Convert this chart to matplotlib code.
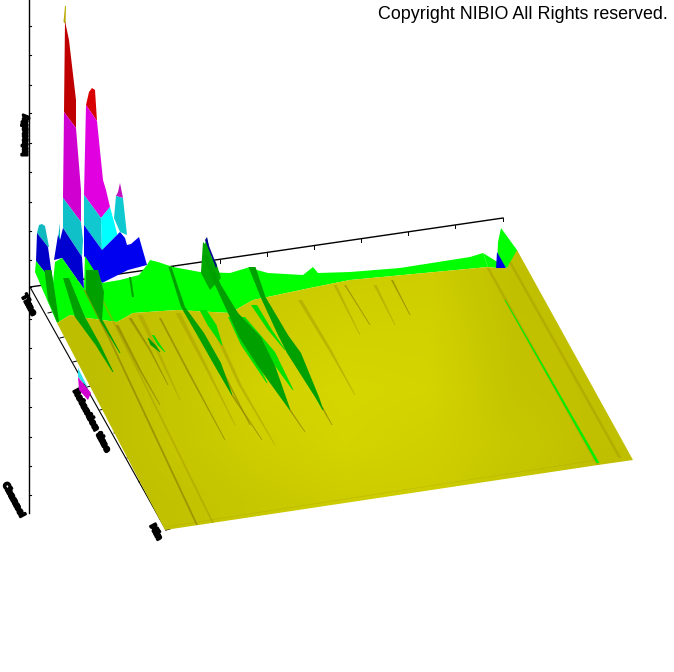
import numpy as np
import matplotlib
matplotlib.use('Agg')
import matplotlib.pyplot as plt
import matplotlib.patheffects as pe
from matplotlib.colors import LinearSegmentedColormap
from matplotlib.patches import Polygon

# outlines, in picture pixels
floor_x = [57, 70, 80, 117, 133, 177, 230, 253, 277, 310, 350, 488, 497, 507, 517, 633, 598, 165]
floor_y = [323, 315, 317, 322, 313, 310, 313, 300, 295, 288, 280, 267, 268, 268, 250, 460, 465, 530]

band_x = [35, 36, 53, 55, 62, 84, 85, 102, 120, 139, 147, 150, 158, 173, 200, 230, 250, 257, 268, 303,
          313, 318, 350, 400, 470, 483, 488, 350, 310, 277, 253, 230, 177, 133, 117, 80, 70, 57]
band_y = [272, 261, 283, 262, 258, 289, 256, 283, 280, 275, 265, 260, 262, 267, 272, 273, 267, 270, 273, 275,
          267, 273, 272, 268, 257, 253, 267, 280, 288, 295, 300, 313, 310, 313, 322, 317, 315, 323]

layers = {
    '#b8a800': ([63.5, 65, 66, 65.5], [22, 6, 6, 24]),
    '#c00000': ([64, 65, 69, 76, 76], [112, 21, 40, 100, 128]),
    '#d000d0': ([64, 76, 81, 81, 63], [112, 128, 190, 222, 198]),
    '#10c0c8': ([63, 81, 83, 82, 63], [198, 222, 240, 257, 228]),
    '#0000d0': ([63, 82, 84, 62, 54, 58, 60], [228, 257, 289, 258, 260, 235, 240]),
}
peak2 = {
    '#d80000': ([86, 89, 92, 95, 97], [105, 92, 88, 90, 121]),
    '#e000e0': ([86, 97, 103, 106, 110, 101, 84], [105, 121, 180, 190, 207, 218, 195]),
    '#10c8d0': ([84, 101, 102, 84], [195, 218, 250, 225]),
    '#00ffff': ([101, 110, 113, 118, 120, 102], [218, 207, 218, 237, 232, 250]),
    '#0000f0': ([84, 102, 120, 125, 127, 131, 139, 147, 128, 102, 84],
                [225, 250, 232, 238, 245, 244, 237, 265, 270, 283, 256]),
}
peak3 = {
    '#c010c0': ([118, 120, 123, 116], [192, 183, 198, 196]),
    '#10c8d0': ([116, 123, 127, 120, 114], [196, 198, 235, 232, 218]),
}
peak0 = {
    '#10b8c0': ([37, 39, 42, 45, 49, 48], [233, 225, 224, 226, 247, 247]),
    '#0000c8': ([37, 48, 53, 36], [233, 247, 283, 261]),
    '#10b8c0 ': ([58, 60, 60, 58], [238, 223, 240, 240]),
}
front_bits = {
    '#30e0e8': ([78, 88, 78], [368, 388, 377]),
    '#d000d0': ([78, 91, 88, 79], [377, 393, 400, 390]),
}
back_peak_x = [201, 203, 205, 207, 209, 212, 216, 221, 210, 201]
back_peak_y = [272, 242, 244, 238, 247, 258, 262, 278, 290, 273]
blue_tip_x = [203, 205, 207, 209, 217, 216]
blue_tip_y = [235, 240, 237, 246, 266, 268]
right_green_x = [483, 488, 497, 498, 501, 517, 520, 507]
right_green_y = [253, 267, 268, 242, 228, 250, 258, 268]
right_blue_x = [497, 506, 496]
right_blue_y = [252, 268, 269]

# ridges: centre line x, y and full width
dark_ridges = [
    ([170, 183, 200, 217, 232], [267, 307, 333, 363, 395], [3, 4, 8, 8, 1]),
    ([205, 218, 233, 250, 267, 290], [255, 285, 313, 337, 367, 410], [5, 6, 10, 22, 17, 1]),
    ([252, 263, 283, 294, 317, 323], [267, 297, 335, 353, 397, 410], [7, 5, 10, 14, 4, 1]),
    ([48, 52, 58], [270, 300, 322], [7, 8, 2]),
    ([66, 80, 98, 113], [278, 317, 345, 372], [6, 10, 5, 1]),
    ([92, 95, 101], [270, 292, 320], [12, 18, 2]),
    ([101, 120], [320, 353], [3, 1]),
    ([130, 133], [277, 297], [2, 2]),
    ([148, 153, 160], [338, 345, 352], [1, 5, 1]),
]
light_ridges = [
    ([230, 245, 267], [317, 345, 383], [4, 8, 1]),
    ([243, 270, 293], [317, 352, 390], [4, 10, 1]),
    ([203, 212, 222], [310, 325, 345], [7, 9, 1]),
    ([254, 270, 285], [305, 330, 350], [6, 4, 1]),
    ([153, 159, 165], [335, 345, 352], [2, 3, 1]),
]
brown_ridges = [
    ([85, 110, 150, 197], [290, 340, 425, 525], [3, 2, 2, 2]),
    ([117, 140, 160], [325, 370, 405], [3, 2, 1]),
    ([130, 150, 168], [318, 350, 385], [3, 2, 1]),
    ([160, 190, 225], [318, 375, 440], [2, 2, 1]),
    ([190, 222, 250], [315, 370, 425], [2, 2, 1]),
    ([232, 262], [395, 440], [2, 1]),
    ([290, 305], [410, 432], [2, 1]),
    ([322, 332], [407, 425], [2, 1]),
    ([392, 410], [280, 315], [2, 1]),
    ([345, 370], [285, 325], [1.5, 1]),
]
shadow_ridges = [
    ([100, 145, 213], [295, 385, 523], [2, 2, 2]),
    ([140, 158, 180], [315, 352, 400], [5, 3, 1]),
    ([178, 205, 235], [313, 365, 425], [5, 3, 1]),
    ([210, 240, 275], [320, 385, 445], [4, 3, 1]),
    ([300, 330, 355], [300, 350, 395], [4, 3, 1]),
    ([335, 360], [285, 335], [3, 1]),
    ([375, 395], [285, 325], [3, 1]),
    ([488, 598], [268, 465], [3, 3]),
    ([510, 620], [262, 458], [3, 3]),
    ([165, 597], [527, 460], [3, 3]),
]
green_line_x = [505, 545, 598]
green_line_y = [300, 370, 463]
green_line_w = [1, 2, 3]

shade_rows = [250, 320, 390, 460, 530]
shade_cols = [50, 130, 200, 350, 480, 500, 640]
shade = [
    [190, 196, 200, 204, 206, 192, 190],
    [190, 196, 204, 210, 210, 194, 192],
    [190, 198, 210, 214, 212, 196, 192],
    [190, 198, 206, 212, 208, 200, 192],
    [190, 194, 200, 204, 204, 196, 190],
]

axis_x = [29, 29]
axis_y = [0, 513]
back_x = [30, 503]
back_y = [287, 218]
side_x = [30, 166]
side_y = [287, 530]
z_ticks = [26, 55, 85, 113, 143, 172, 202, 231, 260, 287, 319, 348, 378, 407, 437, 466, 495]
side_tick_x = [48, 60, 73, 87, 100, 114, 127, 139, 153, 166]
side_tick_y = [313, 338, 362, 387, 410, 433, 458, 482, 506, 530]
back_tick_x = [173, 220, 267, 314, 361, 408, 455, 503]
back_tick_y = [266, 260, 253, 246, 239, 232, 225, 218]

# the axis captions are unreadable black smudges in the reference, these words are placeholders
label_texts = ['Intensity', 'Time', 'Retention time', 'Channel', 'Min']
label_x = [25, 29, 92, 14, 156]
label_y = [135, 305, 421, 500, 532]
label_rot = [90, -62, -62, -62, -62]

fig = plt.figure(figsize=(6.74, 6.72), dpi=100)
ax = fig.add_axes([0, 0, 1, 1])


def ridge(xs, ys, ws, color, z, alpha=1.0):
    # thin tapered polygon around the centre line
    xs, ys, ws = np.array(xs, float), np.array(ys, float), np.array(ws, float) / 2
    left = np.column_stack([xs - ws, ys])
    right = np.column_stack([xs + ws, ys])
    ax.add_patch(Polygon(np.vstack([left, right[::-1]]), closed=True, fc=color, ec='none', zorder=z, alpha=alpha))


def outline(xs, ys, color, z):
    ax.fill(xs, ys, color=color, lw=0, zorder=z)


# axes at the back
ax.plot(axis_x, axis_y, color='black', lw=1, zorder=1)
ax.plot(back_x, back_y, color='black', lw=1, zorder=1)
ax.plot(side_x, side_y, color='black', lw=0.8, zorder=1)
for t in z_ticks:
    ax.plot([29, 31], [t, t], color='black', lw=0.8, zorder=1)
for x, y in zip(side_tick_x, side_tick_y):
    ax.plot([x, x + 4], [y, y - 1], color='black', lw=0.7, zorder=1)
for x, y in zip(back_tick_x, back_tick_y):
    ax.plot([x, x], [y, y + 3], color='black', lw=0.7, zorder=1)

for group in (peak0, layers, peak2, peak3):
    for color, (xs, ys) in group.items():
        outline(xs, ys, color.strip(), 2)

outline(band_x, band_y, '#00ff00', 3)
outline(right_green_x, right_green_y, '#00ff00', 3)
outline(right_blue_x, right_blue_y, '#0000e0', 4)
outline(back_peak_x, back_peak_y, '#00a800', 4)
outline(blue_tip_x, blue_tip_y, '#000090', 5)

floor_poly = Polygon(np.column_stack([floor_x, floor_y]), closed=True, transform=ax.transData,
                     fc='none', ec='none')
ax.add_patch(floor_poly)
cmap = LinearSegmentedColormap.from_list('olive', ['#b4b400', '#d8d800'])
img = ax.imshow(shade, extent=[shade_cols[0], shade_cols[-1], shade_rows[-1], shade_rows[0]],
                cmap=cmap, vmin=180, vmax=216, interpolation='bilinear', aspect='auto', zorder=4)
img.set_clip_path(floor_poly)

for xs, ys, ws in shadow_ridges:
    ridge(xs, ys, ws, '#a8a000', 5, 0.55)
for xs, ys, ws in brown_ridges:
    ridge(xs, ys, ws, '#8c8400', 5, 0.7)
for xs, ys, ws in light_ridges:
    ridge(xs, ys, ws, '#00e000', 6)
for xs, ys, ws in dark_ridges:
    ridge(xs, ys, ws, '#00a000', 7)
ridge(green_line_x, green_line_y, green_line_w, '#00f000', 7)

for color, (xs, ys) in front_bits.items():
    outline(xs, ys, color, 6)

ax.text(378, 19, 'Copyright NIBIO All Rights reserved.', family='Liberation Sans', fontsize=12.9,
        color='black', ha='left', va='baseline', zorder=10)
for s, x, y, r in zip(label_texts, label_x, label_y, label_rot):
    t = ax.text(x, y, s, fontsize=6, fontweight='bold', rotation=r, ha='center', va='center', color='black')
    t.set_path_effects([pe.withStroke(linewidth=1.6, foreground='black')])

ax.set_xlim(0, 674)
ax.set_ylim(672, 0)
ax.axis('off')
fig.savefig('out.png', dpi=100)
